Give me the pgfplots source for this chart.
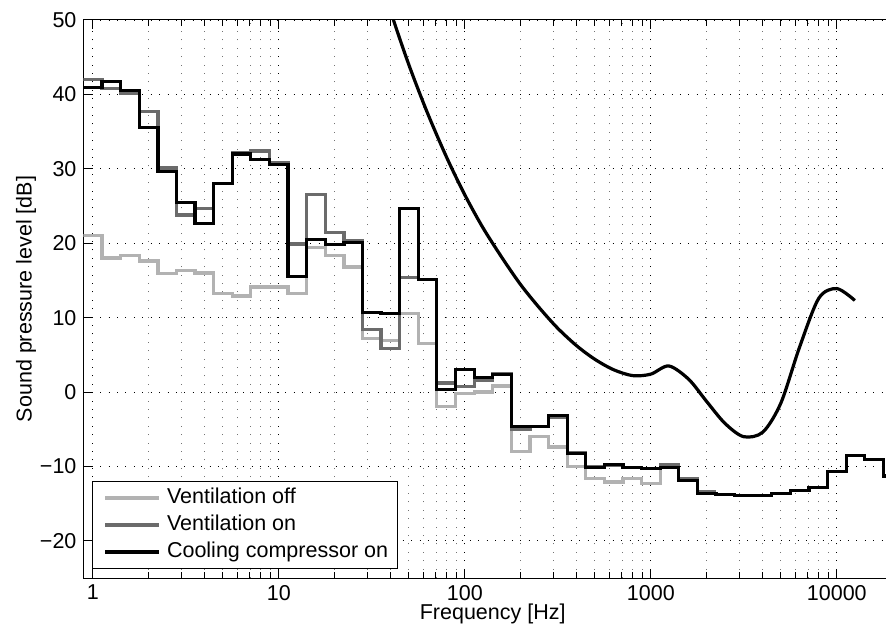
\documentclass[border=0pt]{standalone}
\usepackage{pgfplots}
\pgfplotsset{compat=1.18}
\usepackage{fontspec}
\setmainfont{Liberation Sans}
\definecolor{voff}{gray}{0.70}
\definecolor{von}{gray}{0.42}
\begin{document}
\begin{tikzpicture}[font=\fontsize{10.75}{12.9}\selectfont]
\useasboundingbox (-41.75pt,-26pt) rectangle (401.25pt,289pt);
\clip (-41.75pt,-26pt) rectangle (401.25pt,289pt);
\begin{axis}[
  name=ax, at={(0,0)}, anchor=south west,
  scale only axis, width=409.2pt, height=279pt,
  xmode=log, xmin=0.8913, xmax=22387, ymin=-25, ymax=50,
  xtick={1,10,100,1000,10000}, xticklabels={1,10,100,1000,10000},
  minor xtick={2,3,4,5,6,7,8,9,20,30,40,50,60,70,80,90,200,300,400,500,600,700,800,900,2000,3000,4000,5000,6000,7000,8000,9000,20000},
  ytick={-20,-10,0,10,20,30,40,50}, yticklabels={−20,−10,0,10,20,30,40,50},
  grid=both,
  major grid style={black, line width=0.4pt, dash pattern=on 0.5pt off 3.7pt},
  minor grid style={black!55, line width=0.4pt, dash pattern=on 0.5pt off 3.7pt},
  axis line style={line width=0.5pt},
  tick style={black, line width=0.5pt},
  xlabel={Frequency [Hz]},
  ylabel={Sound pressure level [dB]},
  every axis x label/.style={at={([yshift=-20.5pt]axis description cs:0.5,0)}, anchor=base},
  every axis y label/.style={at={([xshift=-25.9pt]axis description cs:0,0.5)}, anchor=base, rotate=90},
  legend style={at={(0.0108,0.0161)}, anchor=south west, draw=black, line width=0.5pt, fill=white,
    inner xsep=3pt, inner ysep=1.5pt, row sep=0pt,
    nodes={inner xsep=1.5pt, inner ysep=1.5pt, text height=8pt, text depth=2.5pt},
    /tikz/every odd column/.style={column sep=1.5pt}},
  legend cell align=left,
  legend image code/.code={\path (0pt,0pt); \draw[#1] (2.5pt,0pt) -- (29.5pt,0pt);},
]
% Ventilation off
\addplot[const plot, color=voff, line width=1.6pt] coordinates {
(0.8913,21.0) (1.122,18.0) (1.413,18.4) (1.778,17.6) (2.239,15.9) (2.818,16.3)
(3.548,16.0) (4.467,13.2) (5.623,12.9) (7.079,14.1) (8.913,14.1) (11.22,13.2)
(14.13,19.4) (17.78,18.4) (22.39,16.8) (28.18,7.2) (35.48,6.9) (44.67,10.5)
(56.23,6.5) (70.79,-2.0) (89.13,-0.2) (112.2,0.0) (141.3,0.8) (177.8,-8.0)
(223.9,-6.0) (281.8,-7.4) (354.8,-10.0) (446.7,-11.6) (562.3,-12.1) (707.9,-11.6)
(891.3,-12.3) (1122,-9.9) (1413,-9.9)};
\addlegendentry{Ventilation off}
% Ventilation on
\addplot[const plot, color=von, line width=1.6pt] coordinates {
(0.8913,42.0) (1.122,40.8) (1.413,40.2) (1.778,37.7) (2.239,30.1) (2.818,23.8)
(3.548,24.7) (4.467,28.0) (5.623,32.2) (7.079,32.4) (8.913,30.8) (11.22,19.9)
(14.13,26.5) (17.78,21.4) (22.39,20.4) (28.18,8.4) (35.48,5.8) (44.67,15.4)
(56.23,15.1) (70.79,1.2) (89.13,0.75) (112.2,1.5) (141.3,2.5) (177.8,-5.0)
(223.9,-4.6) (281.8,-3.4) (354.8,-8.2) (446.7,-10.0) (562.3,-9.8) (707.9,-10.2)
(891.3,-10.3) (1122,-9.8) (1413,-11.6) (1778,-13.4) (2239,-13.4)};
\addlegendentry{Ventilation on}
% Cooling compressor on
\addplot[const plot, color=black, line width=1.6pt] coordinates {
(0.8913,40.9) (1.122,41.7) (1.413,40.5) (1.778,35.5) (2.239,29.6) (2.818,25.5)
(3.548,22.6) (4.467,28.0) (5.623,32.0) (7.079,31.3) (8.913,30.6) (11.22,15.5)
(14.13,20.5) (17.78,19.8) (22.39,20.1) (28.18,10.7) (35.48,10.5) (44.67,24.7)
(56.23,15.1) (70.79,0.3) (89.13,3.0) (112.2,1.9) (141.3,2.3) (177.8,-4.6)
(223.9,-4.6) (281.8,-3.2) (354.8,-8.3) (446.7,-10.2) (562.3,-9.7) (707.9,-10.2)
(891.3,-10.3) (1122,-10.1) (1413,-11.9) (1778,-13.6) (2239,-13.8) (2818,-13.9)
(3548,-13.9) (4467,-13.6) (5623,-13.2) (7079,-12.8) (8913,-10.7) (11220,-8.5)
(14130,-9.1) (17780,-11.3) (22390,-11.3)};
\addlegendentry{Cooling compressor on}
% Hearing threshold
\addplot[smooth, color=black, line width=1.6pt, forget plot] coordinates {
(31.5,59.5) (40,51.1) (50,44.0) (63,37.5) (80,31.5) (100,26.5) (125,22.1)
(160,17.9) (200,14.4) (250,11.4) (315,8.6) (400,6.2) (500,4.4) (630,3.0)
(800,2.2) (1000,2.4) (1250,3.5) (1600,1.7) (2000,-1.3) (2500,-4.2) (3150,-6.0)
(4000,-5.4) (5000,-1.5) (6300,6.0) (8000,12.6) (10000,13.9) (12500,12.3)};
\end{axis}
\end{tikzpicture}
\end{document}
